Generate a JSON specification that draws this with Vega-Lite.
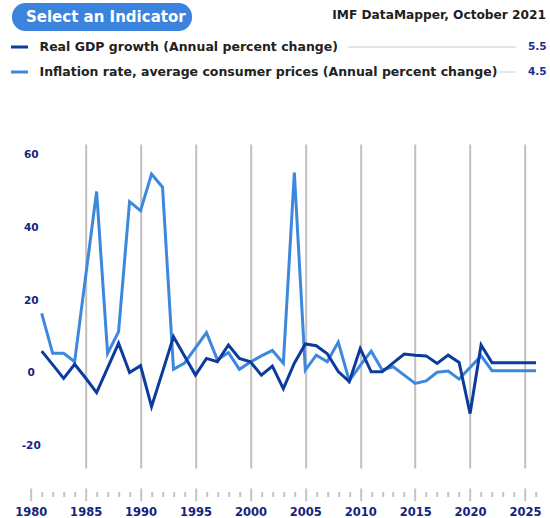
{
  "$schema": "https://vega.github.io/schema/vega-lite/v6.json",
  "width": 505.3,
  "height": 324,
  "autosize": {"type": "none"},
  "padding": {"left": 30.7, "top": 144, "right": 14, "bottom": 50},
  "background": "white",
  "title": {
    "text": "IMF DataMapper, October 2021",
    "anchor": "end",
    "frame": "group",
    "orient": "top",
    "offset": -18,
    "dx": 10,
    "font": "DejaVu Sans",
    "fontSize": 12.2,
    "fontWeight": "bold",
    "color": "#1e1e1e"
  },
  "datasets": {
    "series": [
      {"year": 1981, "indicator": "Inflation rate, average consumer prices (Annual percent change)", "value": 16.3},
      {"year": 1982, "indicator": "Inflation rate, average consumer prices (Annual percent change)", "value": 5.3},
      {"year": 1983, "indicator": "Inflation rate, average consumer prices (Annual percent change)", "value": 5.3},
      {"year": 1984, "indicator": "Inflation rate, average consumer prices (Annual percent change)", "value": 3.0},
      {"year": 1985, "indicator": "Inflation rate, average consumer prices (Annual percent change)", "value": 26.5},
      {"year": 1986, "indicator": "Inflation rate, average consumer prices (Annual percent change)", "value": 49.9},
      {"year": 1987, "indicator": "Inflation rate, average consumer prices (Annual percent change)", "value": 5.3},
      {"year": 1988, "indicator": "Inflation rate, average consumer prices (Annual percent change)", "value": 11.3},
      {"year": 1989, "indicator": "Inflation rate, average consumer prices (Annual percent change)", "value": 47.1},
      {"year": 1990, "indicator": "Inflation rate, average consumer prices (Annual percent change)", "value": 44.6},
      {"year": 1991, "indicator": "Inflation rate, average consumer prices (Annual percent change)", "value": 54.7},
      {"year": 1992, "indicator": "Inflation rate, average consumer prices (Annual percent change)", "value": 51.1},
      {"year": 1993, "indicator": "Inflation rate, average consumer prices (Annual percent change)", "value": 0.9},
      {"year": 1994, "indicator": "Inflation rate, average consumer prices (Annual percent change)", "value": 2.6},
      {"year": 1995, "indicator": "Inflation rate, average consumer prices (Annual percent change)", "value": 6.8},
      {"year": 1996, "indicator": "Inflation rate, average consumer prices (Annual percent change)", "value": 11.0},
      {"year": 1997, "indicator": "Inflation rate, average consumer prices (Annual percent change)", "value": 3.5},
      {"year": 1998, "indicator": "Inflation rate, average consumer prices (Annual percent change)", "value": 5.5},
      {"year": 1999, "indicator": "Inflation rate, average consumer prices (Annual percent change)", "value": 0.9},
      {"year": 2000, "indicator": "Inflation rate, average consumer prices (Annual percent change)", "value": 2.9},
      {"year": 2001, "indicator": "Inflation rate, average consumer prices (Annual percent change)", "value": 4.6},
      {"year": 2002, "indicator": "Inflation rate, average consumer prices (Annual percent change)", "value": 6.1},
      {"year": 2003, "indicator": "Inflation rate, average consumer prices (Annual percent change)", "value": 2.6},
      {"year": 2004, "indicator": "Inflation rate, average consumer prices (Annual percent change)", "value": 55.1},
      {"year": 2005, "indicator": "Inflation rate, average consumer prices (Annual percent change)", "value": 0.7},
      {"year": 2006, "indicator": "Inflation rate, average consumer prices (Annual percent change)", "value": 4.8},
      {"year": 2007, "indicator": "Inflation rate, average consumer prices (Annual percent change)", "value": 3.0},
      {"year": 2008, "indicator": "Inflation rate, average consumer prices (Annual percent change)", "value": 8.4},
      {"year": 2009, "indicator": "Inflation rate, average consumer prices (Annual percent change)", "value": -2.3},
      {"year": 2010, "indicator": "Inflation rate, average consumer prices (Annual percent change)", "value": 2.0},
      {"year": 2011, "indicator": "Inflation rate, average consumer prices (Annual percent change)", "value": 5.9},
      {"year": 2012, "indicator": "Inflation rate, average consumer prices (Annual percent change)", "value": 0.7},
      {"year": 2013, "indicator": "Inflation rate, average consumer prices (Annual percent change)", "value": 1.6},
      {"year": 2014, "indicator": "Inflation rate, average consumer prices (Annual percent change)", "value": -0.7},
      {"year": 2015, "indicator": "Inflation rate, average consumer prices (Annual percent change)", "value": -3.0},
      {"year": 2016, "indicator": "Inflation rate, average consumer prices (Annual percent change)", "value": -2.3},
      {"year": 2017, "indicator": "Inflation rate, average consumer prices (Annual percent change)", "value": 0.1},
      {"year": 2018, "indicator": "Inflation rate, average consumer prices (Annual percent change)", "value": 0.4},
      {"year": 2019, "indicator": "Inflation rate, average consumer prices (Annual percent change)", "value": -1.8},
      {"year": 2020, "indicator": "Inflation rate, average consumer prices (Annual percent change)", "value": 1.4},
      {"year": 2021, "indicator": "Inflation rate, average consumer prices (Annual percent change)", "value": 4.6},
      {"year": 2022, "indicator": "Inflation rate, average consumer prices (Annual percent change)", "value": 0.5},
      {"year": 2023, "indicator": "Inflation rate, average consumer prices (Annual percent change)", "value": 0.5},
      {"year": 2024, "indicator": "Inflation rate, average consumer prices (Annual percent change)", "value": 0.5},
      {"year": 2025, "indicator": "Inflation rate, average consumer prices (Annual percent change)", "value": 0.5},
      {"year": 2026, "indicator": "Inflation rate, average consumer prices (Annual percent change)", "value": 0.5},
      {"year": 1981, "indicator": "Real GDP growth (Annual percent change)", "value": 5.9},
      {"year": 1982, "indicator": "Real GDP growth (Annual percent change)", "value": 2.2},
      {"year": 1983, "indicator": "Real GDP growth (Annual percent change)", "value": -1.6},
      {"year": 1984, "indicator": "Real GDP growth (Annual percent change)", "value": 2.3},
      {"year": 1985, "indicator": "Real GDP growth (Annual percent change)", "value": -1.5},
      {"year": 1986, "indicator": "Real GDP growth (Annual percent change)", "value": -5.5},
      {"year": 1987, "indicator": "Real GDP growth (Annual percent change)", "value": 1.3},
      {"year": 1988, "indicator": "Real GDP growth (Annual percent change)", "value": 8.1},
      {"year": 1989, "indicator": "Real GDP growth (Annual percent change)", "value": 0.0},
      {"year": 1990, "indicator": "Real GDP growth (Annual percent change)", "value": 1.9},
      {"year": 1991, "indicator": "Real GDP growth (Annual percent change)", "value": -9.4},
      {"year": 1992, "indicator": "Real GDP growth (Annual percent change)", "value": 0.2},
      {"year": 1993, "indicator": "Real GDP growth (Annual percent change)", "value": 9.9},
      {"year": 1994, "indicator": "Real GDP growth (Annual percent change)", "value": 4.6},
      {"year": 1995, "indicator": "Real GDP growth (Annual percent change)", "value": -0.7},
      {"year": 1996, "indicator": "Real GDP growth (Annual percent change)", "value": 3.9},
      {"year": 1997, "indicator": "Real GDP growth (Annual percent change)", "value": 3.0},
      {"year": 1998, "indicator": "Real GDP growth (Annual percent change)", "value": 7.6},
      {"year": 1999, "indicator": "Real GDP growth (Annual percent change)", "value": 3.9},
      {"year": 2000, "indicator": "Real GDP growth (Annual percent change)", "value": 3.0},
      {"year": 2001, "indicator": "Real GDP growth (Annual percent change)", "value": -0.7},
      {"year": 2002, "indicator": "Real GDP growth (Annual percent change)", "value": 1.8},
      {"year": 2003, "indicator": "Real GDP growth (Annual percent change)", "value": -4.4},
      {"year": 2004, "indicator": "Real GDP growth (Annual percent change)", "value": 2.6},
      {"year": 2005, "indicator": "Real GDP growth (Annual percent change)", "value": 7.9},
      {"year": 2006, "indicator": "Real GDP growth (Annual percent change)", "value": 7.4},
      {"year": 2007, "indicator": "Real GDP growth (Annual percent change)", "value": 5.2},
      {"year": 2008, "indicator": "Real GDP growth (Annual percent change)", "value": 0.3},
      {"year": 2009, "indicator": "Real GDP growth (Annual percent change)", "value": -2.5},
      {"year": 2010, "indicator": "Real GDP growth (Annual percent change)", "value": 6.6},
      {"year": 2011, "indicator": "Real GDP growth (Annual percent change)", "value": 0.2},
      {"year": 2012, "indicator": "Real GDP growth (Annual percent change)", "value": 0.2},
      {"year": 2013, "indicator": "Real GDP growth (Annual percent change)", "value": 2.7},
      {"year": 2014, "indicator": "Real GDP growth (Annual percent change)", "value": 5.1},
      {"year": 2015, "indicator": "Real GDP growth (Annual percent change)", "value": 4.8},
      {"year": 2016, "indicator": "Real GDP growth (Annual percent change)", "value": 4.6},
      {"year": 2017, "indicator": "Real GDP growth (Annual percent change)", "value": 2.5},
      {"year": 2018, "indicator": "Real GDP growth (Annual percent change)", "value": 4.8},
      {"year": 2019, "indicator": "Real GDP growth (Annual percent change)", "value": 2.8},
      {"year": 2020, "indicator": "Real GDP growth (Annual percent change)", "value": -11.3},
      {"year": 2021, "indicator": "Real GDP growth (Annual percent change)", "value": 7.6},
      {"year": 2022, "indicator": "Real GDP growth (Annual percent change)", "value": 2.7},
      {"year": 2023, "indicator": "Real GDP growth (Annual percent change)", "value": 2.7},
      {"year": 2024, "indicator": "Real GDP growth (Annual percent change)", "value": 2.7},
      {"year": 2025, "indicator": "Real GDP growth (Annual percent change)", "value": 2.7},
      {"year": 2026, "indicator": "Real GDP growth (Annual percent change)", "value": 2.7}
    ],
    "button": [{"label": "Select an Indicator"}],
    "readout": [
      {"indicator": "Real GDP growth (Annual percent change)", "reading": "5.5"},
      {"indicator": "Inflation rate, average consumer prices (Annual percent change)", "reading": "4.5"}
    ]
  },
  "layer": [
    {
      "data": {"name": "series"},
      "mark": {"type": "line", "strokeWidth": 3},
      "encoding": {
        "x": {
          "field": "year",
          "type": "quantitative",
          "scale": {"domain": [1980, 2026], "nice": false, "zero": false},
          "axis": {
            "orient": "bottom",
            "offset": 20,
            "title": null,
            "values": [1980,1981,1982,1983,1984,1985,1986,1987,1988,1989,1990,1991,1992,1993,1994,1995,1996,1997,1998,1999,2000,2001,2002,2003,2004,2005,2006,2007,2008,2009,2010,2011,2012,2013,2014,2015,2016,2017,2018,2019,2020,2021,2022,2023,2024,2025,2026],
            "format": "d",
            "labelExpr": "datum.value % 5 === 0 ? datum.label : ''",
            "labelOverlap": false,
            "labelFlush": false,
            "domain": false,
            "grid": true,
            "gridColor": "#c0c0c0",
            "gridWidth": 2,
            "gridOpacity": {"condition": {"test": "datum.value % 5 === 0 && datum.value > 1980", "value": 1}, "value": 0},
            "tickColor": "#c4c4c4",
            "tickWidth": 2,
            "tickSize": 12.7,
            "tickDash": {"condition": {"test": "datum.value % 5 === 0", "value": [1, 0]}, "value": [0, 3.4, 5, 30]},
            "labelFont": "DejaVu Sans",
            "labelFontWeight": "bold",
            "labelFontSize": 11.5,
            "labelColor": "#15257b",
            "labelPadding": 6
          }
        },
        "y": {
          "field": "value",
          "type": "quantitative",
          "scale": {"domain": [-26.3, 63], "nice": false, "zero": false},
          "axis": {
            "orient": "left",
            "title": null,
            "values": [-20, 0, 20, 40, 60],
            "labelExpr": "replace(datum.label, '\u2212', '-')",
            "grid": false,
            "domain": false,
            "ticks": false,
            "tickSize": 0,
            "labelPadding": 0,
            "labelAlign": "center",
            "labelBaseline": "middle",
            "labelFont": "DejaVu Sans",
            "labelFontWeight": "bold",
            "labelFontSize": 10.5,
            "labelColor": "#15257b"
          }
        },
        "color": {
          "field": "indicator",
          "type": "nominal",
          "scale": {
            "domain": ["Real GDP growth (Annual percent change)", "Inflation rate, average consumer prices (Annual percent change)"],
            "range": ["#0b3c9d", "#3d88dd"]
          },
          "legend": {
            "title": null,
            "orient": "none",
            "legendX": -21.2,
            "legendY": -107,
            "direction": "vertical",
            "padding": 0,
            "symbolType": "stroke",
            "symbolSize": 289,
            "symbolStrokeWidth": 3,
            "clipHeight": 20,
            "rowPadding": 5,
            "labelOffset": 10,
            "labelLimit": 0,
            "labelFont": "DejaVu Sans",
            "labelFontSize": 12.5,
            "labelFontWeight": "bold",
            "labelColor": "#222222"
          }
        }
      }
    },
    {
      "data": {"name": "button"},
      "mark": {"type": "point", "opacity": 0},
      "encoding": {
        "strokeDash": {
          "field": "label",
          "type": "nominal",
          "scale": {"range": [[1, 0]]},
          "legend": {
            "title": null,
            "orient": "none",
            "legendX": -18.7,
            "legendY": -141,
            "padding": 6,
            "fillColor": "#3b83dc",
            "cornerRadius": 13.5,
            "symbolOpacity": 0,
            "symbolSize": 4,
            "symbolStrokeWidth": 0,
            "clipHeight": 15,
            "labelOffset": -7,
            "labelLimit": 0,
            "labelExpr": "datum.label + '\u2002\u2002\u2002'",
            "labelFont": "DejaVu Sans",
            "labelFontSize": 15,
            "labelFontWeight": "bold",
            "labelColor": "#ffffff"
          }
        }
      }
    },
    {
      "data": {"name": "readout"},
      "mark": {"type": "point", "opacity": 0},
      "encoding": {
        "shape": {
          "field": "reading",
          "type": "nominal",
          "scale": {"domain": ["5.5", "4.5"], "range": ["M-1,0H1", "M0.81,0H1"]},
          "legend": {
            "title": null,
            "orient": "none",
            "legendX": 317.3,
            "legendY": -107,
            "padding": 0,
            "symbolSize": 27889,
            "symbolStrokeWidth": 1,
            "symbolStrokeColor": "#cccccc",
            "symbolFillColor": "transparent",
            "symbolOpacity": 1,
            "clipHeight": 20,
            "rowPadding": 5,
            "labelOffset": 12,
            "labelFont": "DejaVu Sans",
            "labelFontSize": 10.5,
            "labelFontWeight": "bold",
            "labelColor": "#1a3090"
          }
        }
      }
    }
  ],
  "config": {"view": {"stroke": null}}
}
